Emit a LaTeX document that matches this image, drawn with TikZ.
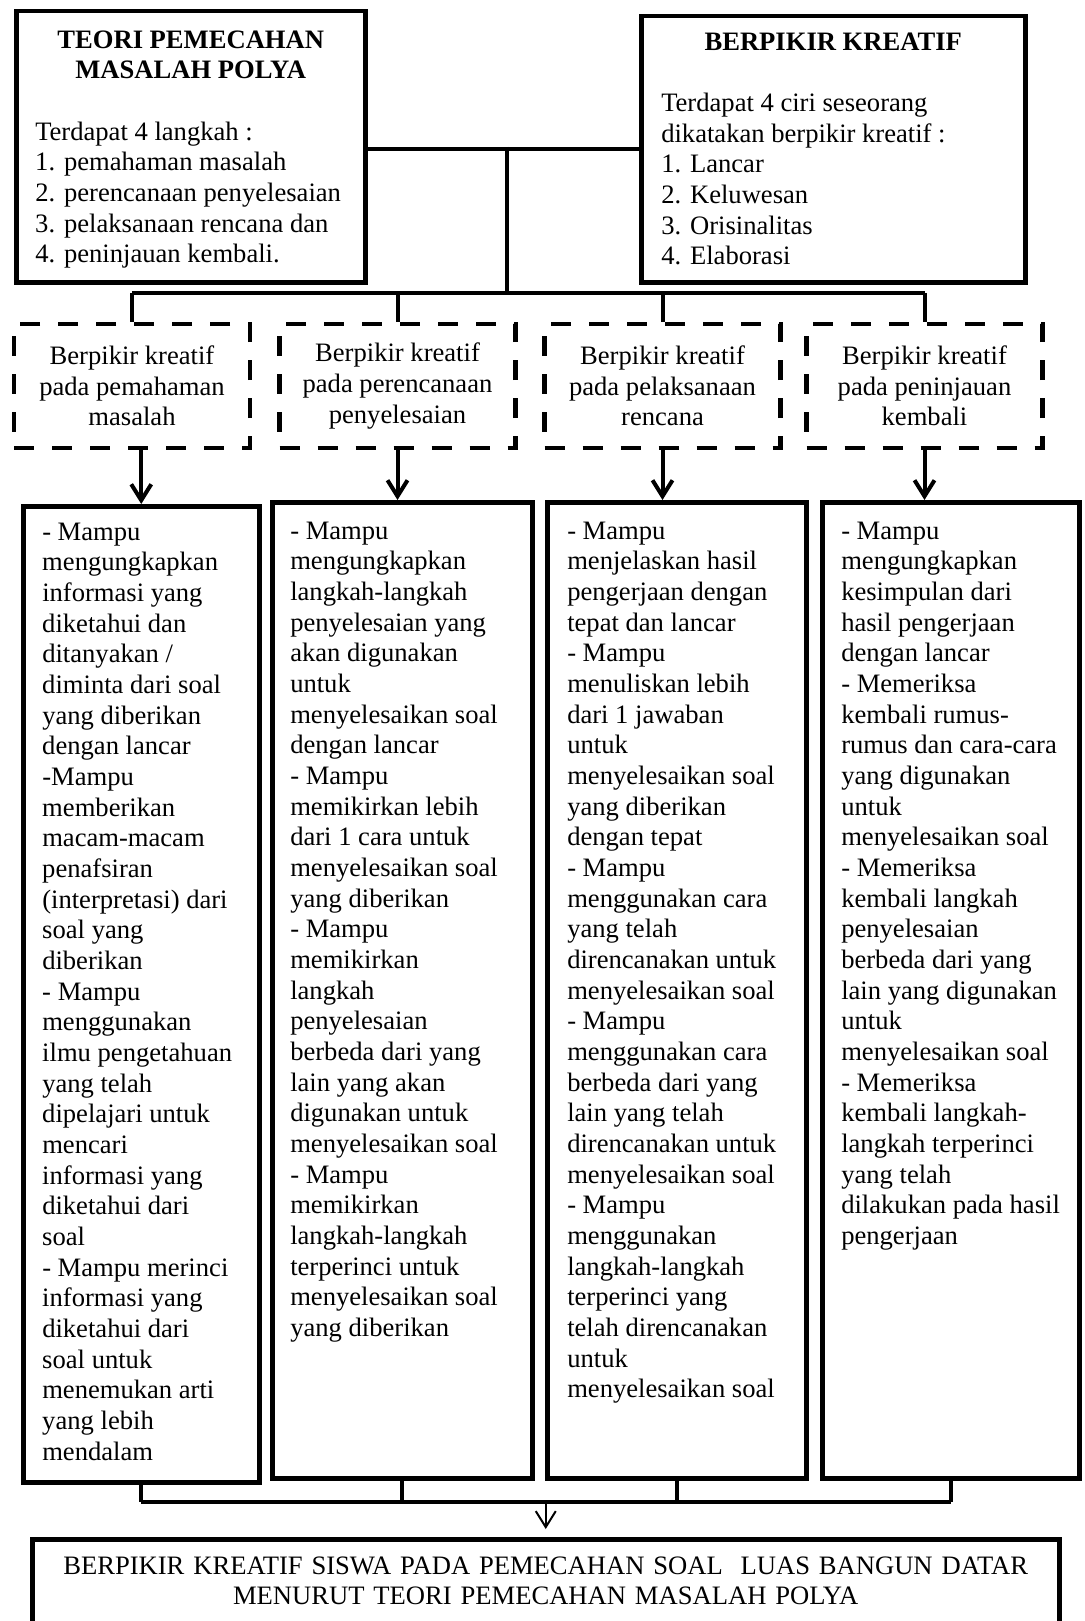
\documentclass[tikz,border=0pt]{standalone}
\usepackage{fontspec}
\setmainfont{Liberation Serif}
\usetikzlibrary{arrows.meta}
\tikzset{
	kotak/.style={draw, line width=2.25pt, anchor=north west, inner sep=0pt, align=flush left, font={\fontsize{13.3}{15.33}\selectfont}},
	kiri/.style={execute at begin node={\leftskip=#1\relax}},
	putus/.style={draw, line width=2.25pt, dash pattern=on 10pt off 9pt, inner sep=0pt, minimum width=118pt, minimum height=62pt, align=center, font={\fontsize{13.3}{15.33}\selectfont}},
	garis/.style={line width=2pt},
	panah/.style={line width=2pt, -{Straight Barb[length=8pt,width=10pt]}}
}
\newcommand{\judul}[1]{\hspace*{-\leftskip}\hspace*{\fill}\textbf{#1}\hspace*{\fill}\null}

\begin{document}
\begin{tikzpicture}[x=0.5pt, y=-0.5pt]
	\useasboundingbox (0,0) rectangle (1085,1621);
	\node[kotak, kiri=9.5pt, text width=174.5pt, text height=18.5pt, text depth=117pt] (polya) at (14,9) {\judul{TEORI PEMECAHAN}\\ \judul{MASALAH POLYA}\\[15.33pt] Terdapat 4 langkah :\\ 1. pemahaman masalah\\ 2. perencanaan penyelesaian\\ 3. pelaksanaan rencana dan\\ 4. peninjauan kembali.};
	\node[kotak, kiri=10pt, text width=192pt, text height=17pt, text depth=116pt] (kreatif) at (639,14) {\judul{BERPIKIR KREATIF}\\[15.33pt] Terdapat 4 ciri seseorang\\ dikatakan berpikir kreatif :\\ 1. Lancar\\ 2. Keluwesan\\ 3. Orisinalitas\\ 4. Elaborasi};

	\node[putus] (d1) at (132,386) {Berpikir kreatif\\ pada pemahaman\\ masalah};
	\node[putus] (d2) at (397.5,386) {Berpikir kreatif\\ pada perencanaan\\ penyelesaian};
	\node[putus] (d3) at (662.5,386) {Berpikir kreatif\\ pada pelaksanaan\\ rencana};
	\node[putus] (d4) at (924.5,386) {Berpikir kreatif\\ pada peninjauan\\ kembali};

	\node[kotak, kiri=9.5pt, text width=118pt, text height=17pt, text depth=471pt] (s1) at (21,504) {- Mampu\\ mengungkapkan\\ informasi yang\\ diketahui dan\\ ditanyakan /\\ diminta dari soal\\ yang diberikan\\ dengan lancar\\ -Mampu\\ memberikan\\ macam-macam\\ penafsiran\\ (interpretasi) dari\\ soal yang\\ diberikan\\ - Mampu\\ menggunakan\\ ilmu pengetahuan\\ yang telah\\ dipelajari untuk\\ mencari\\ informasi yang\\ diketahui dari\\ soal\\ - Mampu merinci\\ informasi yang\\ diketahui dari\\ soal untuk\\ menemukan arti\\ yang lebih\\ mendalam};
	\node[kotak, kiri=9pt, text width=130pt, text height=18.5pt, text depth=469.5pt] (s2) at (270,500) {- Mampu\\ mengungkapkan\\ langkah-langkah\\ penyelesaian yang\\ akan digunakan\\ untuk\\ menyelesaikan soal\\ dengan lancar\\ - Mampu\\ memikirkan lebih\\ dari 1 cara untuk\\ menyelesaikan soal\\ yang diberikan\\ - Mampu\\ memikirkan\\ langkah\\ penyelesaian\\ berbeda dari yang\\ lain yang akan\\ digunakan untuk\\ menyelesaikan soal\\ - Mampu\\ memikirkan\\ langkah-langkah\\ terperinci untuk\\ menyelesaikan soal\\ yang diberikan};
	\node[kotak, kiri=10pt, text width=129.5pt, text height=18.5pt, text depth=469.5pt] (s3) at (545,500) {- Mampu\\ menjelaskan hasil\\ pengerjaan dengan\\ tepat dan lancar\\ - Mampu\\ menuliskan lebih\\ dari 1 jawaban\\ untuk\\ menyelesaikan soal\\ yang diberikan\\ dengan tepat\\ - Mampu\\ menggunakan cara\\ yang telah\\ direncanakan untuk\\ menyelesaikan soal\\ - Mampu\\ menggunakan cara\\ berbeda dari yang\\ lain yang telah\\ direncanakan untuk\\ menyelesaikan soal\\ - Mampu\\ menggunakan\\ langkah-langkah\\ terperinci yang\\ telah direncanakan\\ untuk\\ menyelesaikan soal};
	\node[kotak, kiri=9.5pt, text width=128.5pt, text height=18.5pt, text depth=469.5pt] (s4) at (820,500) {- Mampu\\ mengungkapkan\\ kesimpulan dari\\ hasil pengerjaan\\ dengan lancar\\ - Memeriksa\\ kembali rumus-\\ rumus dan cara-cara\\ yang digunakan\\ untuk\\ menyelesaikan soal\\ - Memeriksa\\ kembali langkah\\ penyelesaian\\ berbeda dari yang\\ lain yang digunakan\\ untuk\\ menyelesaikan soal\\ - Memeriksa\\ kembali langkah-\\ langkah terperinci\\ yang telah\\ dilakukan pada hasil\\ pengerjaan};

	\node[kotak, align=center, text width=513.5pt, text height=17.5pt, text depth=60pt] (hasil) at (30,1537) {BERPIKIR KREATIF SISWA PADA PEMECAHAN SOAL\ \ LUAS BANGUN DATAR\\ MENURUT TEORI PEMECAHAN MASALAH POLYA};

	\coordinate (atas) at (507,147);
	\coordinate (bus) at (507,293);
	\coordinate (bawah) at (545,1502);
	\draw[garis] (polya.east |- kreatif.west) -- (kreatif.west);
	\draw[garis] (atas) -- (bus);
	\draw[garis] (d1.north |- bus) -- (d4.north |- bus);
	\foreach \n in {d1,d2,d3,d4}
		\draw[garis] (\n.north |- bus) -- (\n.north);
	\draw[panah] (s1.north |- d1.south) -- (s1.north);
	\foreach \n/\m in {d2/s2,d3/s3,d4/s4}
		\draw[panah] (\n.south) -- (\n.south |- \m.north);
	\draw[garis] (s1.south |- bawah) -- (s4.south |- bawah);
	\foreach \m in {s1,s2,s3,s4}
		\draw[garis] (\m.south) -- (\m.south |- bawah);
	\draw[line width=1pt, shorten >=4pt, -{Straight Barb[length=8pt,width=10pt]}] (hasil.north |- bawah) -- (hasil.north);
\end{tikzpicture}
\end{document}
